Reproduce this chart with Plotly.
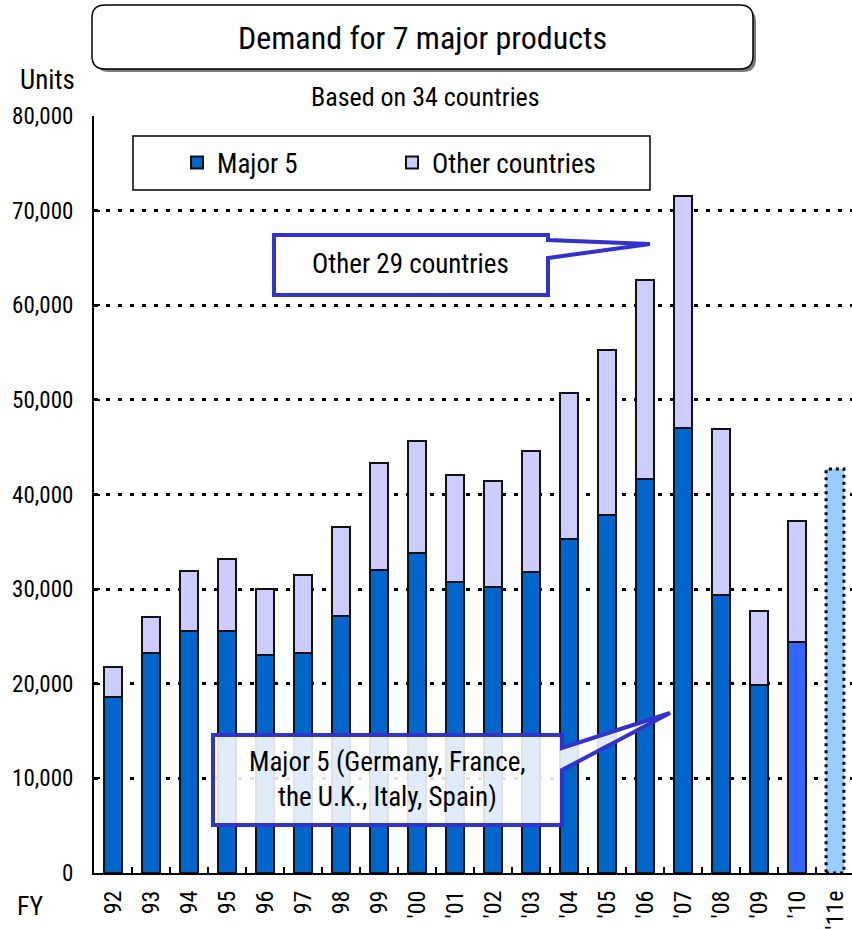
import plotly.graph_objects as go

# ---------------- data ----------------
years = ["92", "93", "94", "95", "96", "97", "98", "99", "'00", "'01", "'02",
         "'03", "'04", "'05", "'06", "'07", "'08", "'09", "'10", "'11e"]
major5 = [18600, 23250, 25600, 25600, 23050, 23250, 27200, 32050, 33800, 30800, 30200,
          31850, 35300, 37800, 41600, 47050, 29400, 19900, 24450, None]
totals = [21800, 27050, 31950, 33200, 30050, 31450, 36600, 43350, 45650, 42050, 41400,
          44550, 50700, 55300, 62700, 71550, 46900, 27650, 37150, None]
other = [None if t is None else t - m for t, m in zip(totals, major5)]
estimate_year = "'11e"
estimate_value = 42700
y_ticks = [0, 10000, 20000, 30000, 40000, 50000, 60000, 70000, 80000]

# ---------------- geometry (page pixels -> paper) ----------------
W, H = 852, 929
P_L, P_R, P_T, P_B = 94, 852, 116, 873   # plot area in pixels
L, R, T, B = P_L, W - P_R, P_T, H - P_B
PW, PH = P_R - P_L, P_B - P_T


def px(x):
    return (x - P_L) / PW


def py(y):
    return (P_B - y) / PH


TXT = "Liberation Sans Narrow, Arial Narrow, Roboto Condensed, sans-serif"
BLUE = "#3333CC"

major_colors = ["#0066CC"] * len(years)
major_colors[years.index("'10")] = "#3366FF"

bar_w = 0.47

fig = go.Figure()
fig.add_trace(go.Bar(
    x=years, y=major5, name="Major 5", width=bar_w,
    marker=dict(color=major_colors, line=dict(color="#111111", width=2)),
))
fig.add_trace(go.Bar(
    x=years, y=other, name="Other countries", width=bar_w,
    marker=dict(color="#CCCCFF", line=dict(color="#111111", width=2)),
))
est = [estimate_value if y == estimate_year else None for y in years]
fig.add_trace(go.Bar(
    x=years, y=est, name="Estimate", width=bar_w, showlegend=False,
    marker=dict(color="#99CCFF", line=dict(width=0)),
))

shapes = []
# dotted outline of the estimate bar (derived from data)
ei = years.index(estimate_year)
shapes.append(dict(type="rect", xref="x", yref="y",
                   x0=ei - bar_w / 2, x1=ei + bar_w / 2, y0=0, y1=estimate_value,
                   line=dict(color="black", width=3, dash="3px,4px"), layer="above"))


def rrect(x0, y0, x1, y1, r):
    X0, X1 = px(x0), px(x1)
    Y0, Y1 = py(y0), py(y1)
    rx, ry = r / PW, r / PH
    return (f"M{X0+rx},{Y0} L{X1-rx},{Y0} Q{X1},{Y0} {X1},{Y0-ry} "
            f"L{X1},{Y1+ry} Q{X1},{Y1} {X1-rx},{Y1} L{X0+rx},{Y1} "
            f"Q{X0},{Y1} {X0},{Y1+ry} L{X0},{Y0-ry} Q{X0},{Y0} {X0+rx},{Y0} Z")


# title box with shadow
shapes.append(dict(type="path", xref="paper", yref="paper",
                   path=rrect(96, 9, 756, 72, 13), fillcolor="#7a7a7a",
                   line=dict(width=0), layer="above"))
shapes.append(dict(type="path", xref="paper", yref="paper",
                   path=rrect(92, 5, 753, 69, 13), fillcolor="white",
                   line=dict(color="black", width=1.5), layer="above"))

# legend box
shapes.append(dict(type="rect", xref="paper", yref="paper",
                   x0=px(133), x1=px(650), y0=py(190), y1=py(136),
                   fillcolor="white", line=dict(color="black", width=1.5), layer="below"))


def callout(x0, y0, x1, y1, a0, tipx, tipy, a1):
    return (f"M{px(x0)},{py(y0)} L{px(x1)},{py(y0)} L{px(x1)},{py(a0)} "
            f"L{px(tipx)},{py(tipy)} L{px(x1)},{py(a1)} L{px(x1)},{py(y1)} "
            f"L{px(x0)},{py(y1)} Z")


shapes.append(dict(type="path", xref="paper", yref="paper",
                   path=callout(274, 235, 548, 295, 240, 650, 244, 258),
                   fillcolor="white", line=dict(color=BLUE, width=4), layer="above"))
shapes.append(dict(type="path", xref="paper", yref="paper",
                   path=callout(213, 735, 562, 825, 748, 670, 713, 770),
                   fillcolor="rgba(255,255,255,0.88)", line=dict(color=BLUE, width=4),
                   layer="above"))


def label(text, x, y, size, **kw):
    return dict(text=text, x=px(x), y=py(y), xref="paper", yref="paper",
                showarrow=False, xanchor="center", yanchor="middle",
                font=dict(family=TXT, size=size, color="black"), **kw)


annotations = [
    label("Demand for 7 major products", 422, 38, 32),
    label("Units", 47, 80, 27),
    label("Based on 34 countries", 425, 97, 26),
    label("Other 29 countries", 410, 264, 27),
    label("Major 5 (Germany, France,<br>the U.K., Italy, Spain)", 387, 779, 27,
          align="center"),
    label("FY", 31, 906, 26),
]

fig.update_layout(
    width=W, height=H, autosize=False,
    margin=dict(l=L, r=R, t=T, b=B, pad=0),
    paper_bgcolor="white", plot_bgcolor="white",
    barmode="stack",
    showlegend=True,
    legend=dict(orientation="h", x=px(177), y=py(163), xanchor="left", yanchor="middle",
                xref="paper", yref="paper", bgcolor="rgba(0,0,0,0)", borderwidth=0,
                traceorder="normal", entrywidth=170, entrywidthmode="pixels",
                font=dict(family=TXT, size=27, color="black")),
    xaxis=dict(type="category", categoryorder="array", categoryarray=years,
               range=[-0.5, -0.5 + PW / 38.0],
               showline=True, linecolor="black", linewidth=2,
               ticks="inside", ticklen=6, tickwidth=1.5, tickcolor="black",
               tickson="boundaries", tickangle=-90, showgrid=False,
               ticklabelstandoff=6,
               tickfont=dict(family=TXT, size=24, color="black")),
    yaxis=dict(range=[0, 80000], tickvals=y_ticks, tickformat=",d",
               showline=True, linecolor="black", linewidth=2,
               ticks="inside", ticklen=6, tickwidth=1.5, tickcolor="black",
               showgrid=True, gridcolor="black", gridwidth=2.5, griddash="4px,8px",
               zeroline=False, ticklabelstandoff=14,
               tickfont=dict(family=TXT, size=23, color="black")),
    shapes=shapes,
    annotations=annotations,
)

fig.write_html("out.html", config={"displayModeBar": False},
               post_script="document.body.style.margin='0';")
